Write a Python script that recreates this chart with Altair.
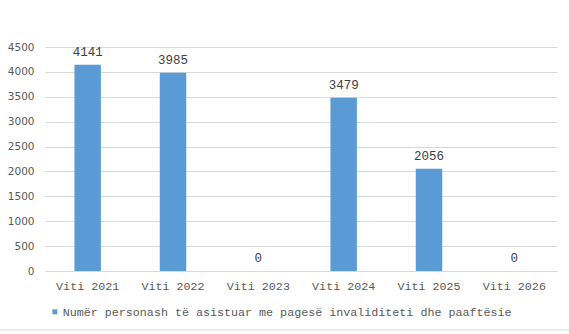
import altair as alt
import pandas as pd

categories = ["Viti 2021", "Viti 2022", "Viti 2023", "Viti 2024", "Viti 2025", "Viti 2026"]
values = [4141, 3985, 0, 3479, 2056, 0]
series_name = "Numër personash të asistuar me pagesë invaliditeti dhe paaftësie"
y_ticks = [0, 500, 1000, 1500, 2000, 2500, 3000, 3500, 4000, 4500]

df = pd.DataFrame({"cat": categories, "val": values, "series": [series_name] * len(categories)})

base = alt.Chart(df).encode(
    x=alt.X("cat:N", sort=categories, title=None,
            scale=alt.Scale(paddingInner=0.69, paddingOuter=0.345),
            axis=alt.Axis(labelAngle=0, ticks=False, grid=False, domainColor="#d9d9d9",
                          labelFont="Liberation Mono", labelFontSize=11.7,
                          labelColor="#595959", labelPadding=9)),
    y=alt.Y("val:Q", title=None,
            scale=alt.Scale(domain=[0, 4500], nice=False),
            axis=alt.Axis(values=y_ticks, ticks=False, domain=False, format="d",
                          labelOverlap=False,
                          gridColor="#d9d9d9", labelFont="DejaVu Sans",
                          labelFontSize=10.5, labelColor="#595959", labelPadding=11)),
)

bars = base.mark_bar(color="#5b9bd5").encode(
    color=alt.Color("series:N", scale=alt.Scale(range=["#5b9bd5"]),
                    legend=alt.Legend(title=None, orient="none", legendX=4, legendY=259,
                                      symbolType="square", symbolSize=25,
                                      symbolStrokeWidth=0, padding=0,
                                      labelFont="Liberation Mono", labelFontSize=11.7,
                                      labelColor="#595959", labelOffset=2,
                                      labelLimit=600)),
)

labels = base.mark_text(dy=-6, font="Liberation Mono", fontSize=12.5, color="#404040",
                        baseline="bottom").encode(
    text=alt.Text("val:Q"),
)

border = alt.Chart(pd.DataFrame({"a": [0]})).mark_rule(color="#d9d9d9", strokeWidth=1).encode(
    x=alt.value(-45), x2=alt.value(524), y=alt.value(283)
)

chart = alt.layer(bars, labels, border).properties(
    width=512, height=224,
    background="#ffffff",
    autosize=alt.AutoSizeParams(type="none"),
    padding={"left": 45, "top": 47, "right": 12, "bottom": 63},
).configure_view(stroke=None)

chart.save("out.html", embed_options={"renderer": "svg", "actions": False})
